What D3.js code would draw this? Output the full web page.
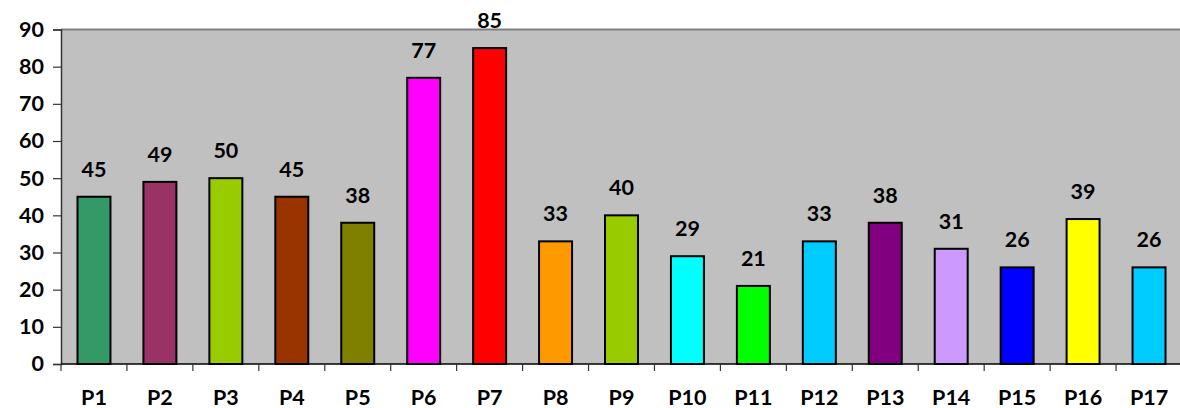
<!DOCTYPE html>
<html>
<head>
<meta charset="utf-8">
<script src="https://cdn.jsdelivr.net/npm/d3@7"></script>
<style>
  html, body { margin: 0; padding: 0; background: #fff; }
  svg { display: block; }
  text { font-family: Lato, "Open Sans", sans-serif; font-weight: bold; fill: #000; }
</style>
</head>
<body>
<svg id="chart" width="1180" height="408"></svg>
<script>
// Category names, values and bar fills
const categories = ["P1","P2","P3","P4","P5","P6","P7","P8","P9","P10","P11","P12","P13","P14","P15","P16","P17"];
const values = [45, 49, 50, 45, 38, 77, 85, 33, 40, 29, 21, 33, 38, 31, 26, 39, 26];
const colors = ["#339966","#993366","#99CC00","#993300","#808000","#FF00FF","#FF0000","#FF9900",
                "#99CC00","#00FFFF","#00FF00","#00CCFF","#800080","#CC99FF","#0000FF","#FFFF00","#00CCFF"];
const yTicks = [0, 10, 20, 30, 40, 50, 60, 70, 80, 90];

const svg = d3.select("#chart");
const plot = { left: 61, top: 29.5, right: 1182, bottom: 364 };
const fontSize = 21.5;

const x = d3.scaleBand()
  .domain(categories)
  .range([plot.left, plot.right])
  .paddingInner(0.5)
  .paddingOuter(0.25);

const y = d3.scaleLinear().domain([0, 90]).range([plot.bottom, plot.top]);

// Plot area background
svg.append("rect")
  .attr("x", plot.left).attr("y", plot.top)
  .attr("width", plot.right - plot.left).attr("height", plot.bottom - plot.top)
  .attr("fill", "#C0C0C0");

// Top border of the plot area
svg.append("line")
  .attr("x1", plot.left).attr("x2", plot.right)
  .attr("y1", plot.top).attr("y2", plot.top)
  .attr("stroke", "#808080").attr("stroke-width", 2);

// Bars
svg.append("g").selectAll("rect")
  .data(categories)
  .join("rect")
  .attr("x", d => x(d))
  .attr("y", (d, i) => y(values[i]))
  .attr("width", x.bandwidth())
  .attr("height", (d, i) => y(0) - y(values[i]))
  .attr("fill", (d, i) => colors[i])
  .attr("stroke", "#000")
  .attr("stroke-width", 2);

// Value labels
svg.append("g").selectAll("text")
  .data(categories)
  .join("text")
  .attr("x", d => x(d) + x.bandwidth() / 2)
  .attr("y", (d, i) => y(values[i]) - 20)
  .attr("text-anchor", "middle")
  .attr("font-size", fontSize)
  .text((d, i) => values[i]);

// Y axis
const yAxis = d3.axisLeft(y).tickValues(yTicks).tickSize(8).tickPadding(6);
const gy = svg.append("g")
  .attr("transform", `translate(${plot.left},0)`)
  .call(yAxis);
gy.select(".domain").attr("stroke", "#333").attr("stroke-width", 1.5);
gy.selectAll(".tick line").attr("stroke", "#333").attr("stroke-width", 1.2);
gy.selectAll(".tick text")
  .attr("font-size", fontSize)
  .attr("font-family", "Lato, 'Open Sans', sans-serif")
  .attr("font-weight", "bold")
  .attr("dx", -3)
  .attr("fill", "#000");

// X axis: ticks between categories
const step = x.step();
const boundaries = d3.range(categories.length + 1).map(i => plot.left + i * step);
const gx = svg.append("g");
gx.append("line")
  .attr("x1", plot.left).attr("x2", plot.right)
  .attr("y1", plot.bottom).attr("y2", plot.bottom)
  .attr("stroke", "#000").attr("stroke-width", 1.5);
gx.selectAll("line.tick")
  .data(boundaries)
  .join("line")
  .attr("class", "tick")
  .attr("x1", d => d).attr("x2", d => d)
  .attr("y1", plot.bottom).attr("y2", plot.bottom + 7)
  .attr("stroke", "#333").attr("stroke-width", 1.2);
gx.selectAll("text")
  .data(categories)
  .join("text")
  .attr("x", d => x(d) + x.bandwidth() / 2)
  .attr("y", 404.5)
  .attr("text-anchor", "middle")
  .attr("font-size", fontSize)
  .text(d => d);
</script>
</body>
</html>
